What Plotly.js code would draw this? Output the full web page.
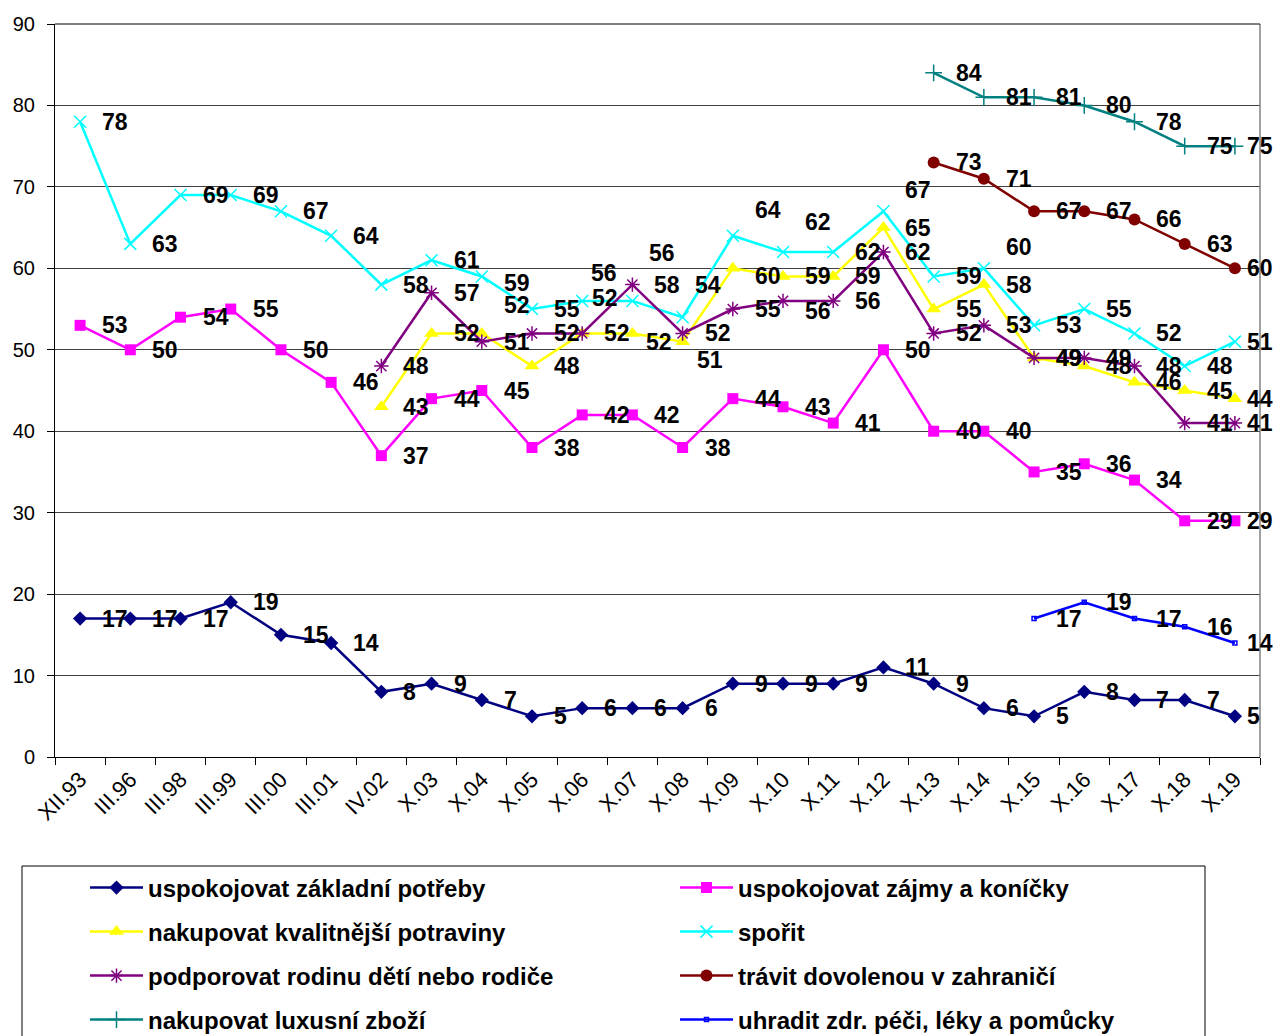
<!DOCTYPE html>
<html>
<head>
<meta charset="utf-8">
<script src="https://cdn.plot.ly/plotly-3.0.1.min.js"></script>
<style>
html,body{margin:0;padding:0;background:#fff;}
#chart{width:1275px;height:1036px;}
</style>
</head>
<body>
<div id="chart"></div>
<script>
// ---- data ----
const categories = ["XII.93","III.96","III.98","III.99","III.00","III.01","IV.02","X.03","X.04","X.05","X.06","X.07","X.08","X.09","X.10","X.11","X.12","X.13","X.14","X.15","X.16","X.17","X.18","X.19"];
const zakladniPotreby = [17,17,17,19,15,14,8,9,7,5,6,6,6,9,9,9,11,9,6,5,8,7,7,5];
const zajmyKonicky = [53,50,54,55,50,46,37,44,45,38,42,42,38,44,43,41,50,40,40,35,36,34,29,29];
const kvalitnejsiPotraviny = [null,null,null,null,null,null,43,52,52,48,52,52,51,60,59,59,65,55,58,49,48,46,45,44];
const sporit = [78,63,69,69,67,64,58,61,59,55,56,56,54,64,62,62,67,59,60,53,55,52,48,51];
const podporovatRodinu = [null,null,null,null,null,null,48,57,51,52,52,58,52,55,56,56,62,52,53,49,49,48,41,41];
const dovolenaZahranici = [null,null,null,null,null,null,null,null,null,null,null,null,null,null,null,null,null,73,71,67,67,66,63,60];
const luxusniZbozi = [null,null,null,null,null,null,null,null,null,null,null,null,null,null,null,null,null,84,81,81,80,78,75,75];
const zdravotniPece = [null,null,null,null,null,null,null,null,null,null,null,null,null,null,null,null,null,null,null,17,19,17,16,14];
const seriesNames = [
  "uspokojovat základní potřeby",
  "uspokojovat zájmy a koníčky",
  "nakupovat kvalitnější potraviny",
  "spořit",
  "podporovat rodinu dětí nebo rodiče",
  "trávit dovolenou v zahraničí",
  "nakupovat luxusní zboží",
  "uhradit zdr. péči, léky a pomůcky"
];

// ---- styles ----
const seriesValues = [zakladniPotreby, zajmyKonicky, kvalitnejsiPotraviny, sporit, podporovatRodinu, dovolenaZahranici, luxusniZbozi, zdravotniPece];
const styles = [
  {color:"#000080", symbol:"diamond", size:11},
  {color:"#FF00FF", symbol:"square", size:11},
  {color:"#FFFF00", symbol:"triangle-up", size:13},
  {color:"#00FFFF", symbol:"x-thin-open", size:12, lw:1.5},
  {color:"#800080", symbol:"asterisk-open", size:12, lw:1.5},
  {color:"#800000", symbol:"circle", size:12},
  {color:"#008080", symbol:"cross-thin-open", size:12, lw:1.5},
  {color:"#0000FF", symbol:"square-open", size:4, lw:1.5}
];
// label nudges (px) for manually moved labels: key "series-index" -> [dx, dy]
const labelNudges = {
  "2-8":[0,28], "2-11":[-8,-9], "2-12":[-8,-18], "2-13":[0,-8],
  "4-10":[-12,35], "4-14":[0,-10],
  "3-8":[0,-7], "3-10":[-13,28], "3-11":[-5,48], "3-12":[-10,32], "3-13":[0,26],
  "3-14":[0,30], "3-16":[0,21], "3-18":[0,21]
};

const FONT = "Liberation Sans, Arial, sans-serif";
const PLOT_L = 55, PLOT_R = 1260, PLOT_T = 24, PLOT_B = 757;
const PW = PLOT_R - PLOT_L, PH = PLOT_B - PLOT_T;
const traces = [];
const annotations = [];
const legends = {};
seriesValues.forEach((vals, s) => {
  const st = styles[s];
  const legId = s === 0 ? "legend" : "legend" + (s + 1);
  const col = s % 2, row = Math.floor(s / 2);
  legends[legId] = {
    orientation: "v",
    x: ((col === 0 ? 85 : 675) - PLOT_L) / PW, xanchor: "left",
    y: (PLOT_B - (888 + 44 * row)) / PH, yanchor: "middle",
    itemwidth: 53,
    bgcolor: "rgba(0,0,0,0)", borderwidth: 0,
    font: {family: FONT, size: 24, color: "#000", weight: 700},
    itemclick: false, itemdoubleclick: false
  };
  traces.push({
    type: "scatter", mode: "lines+markers",
    x: categories, y: vals, name: seriesNames[s],
    legend: legId,
    line: {color: st.color, width: 2.5},
    marker: {color: st.color, symbol: st.symbol, size: st.size, line: {color: st.color, width: st.lw || 0}},
    connectgaps: false, cliponaxis: false,
    hoverinfo: "skip"
  });
  vals.forEach((v, i) => {
    if (v === null) return;
    const n = labelNudges[s + "-" + i] || [0, 0];
    annotations.push({
      x: categories[i], y: v, xref: "x", yref: "y",
      text: String(v), showarrow: false,
      xanchor: "left", yanchor: "middle",
      xshift: (i === categories.length - 1 ? 10 : 20) + n[0], yshift: n[1],
      font: {family: FONT, size: 23, color: "#000", weight: 700}
    });
  });
});

const layout = Object.assign({
  width: 1275, height: 1036,
  margin: {l: PLOT_L, r: 1275 - PLOT_R, t: PLOT_T, b: 1036 - PLOT_B, autoexpand: false},
  paper_bgcolor: "#fff", plot_bgcolor: "#fff",
  font: {family: FONT, color: "#000"},
  showlegend: true,
  xaxis: {
    type: "category", categoryorder: "array", categoryarray: categories,
    range: [-0.5, 23.5], tickson: "boundaries", ticks: "outside", ticklen: 7, tickcolor: "#000",
    tickangle: -45, tickfont: {family: FONT, size: 22, color: "#000"},
    showline: true, linecolor: "#000", linewidth: 1, showgrid: false, zeroline: false, fixedrange: true
  },
  yaxis: {
    range: [0, 90], dtick: 10, tick0: 0, ticks: "outside", ticklen: 7, tickcolor: "#000",
    tickfont: {family: FONT, size: 20, color: "#000"}, ticklabelstandoff: 8,
    showline: true, linecolor: "#000", linewidth: 1,
    showgrid: true, gridcolor: "#404040", gridwidth: 1, zeroline: false, fixedrange: true
  },
  annotations: annotations,
  shapes: [
    {type: "line", xref: "paper", yref: "paper", x0: 1, x1: 1, y0: 0, y1: 1, line: {color: "#808080", width: 1.5}},
    {type: "line", xref: "paper", yref: "paper", x0: 0, x1: 1, y0: 1, y1: 1, line: {color: "#000", width: 1}},
    {type: "rect", xref: "paper", yref: "paper",
     x0: (22 - PLOT_L) / PW, x1: (1205 - PLOT_L) / PW, y0: (PLOT_B - 866) / PH, y1: (PLOT_B - 1060) / PH,
     line: {color: "#000", width: 1}, fillcolor: "rgba(0,0,0,0)", layer: "below"}
  ]
}, legends);

Plotly.newPlot("chart", traces, layout, {displayModeBar: false, staticPlot: true});
</script>
</body>
</html>
